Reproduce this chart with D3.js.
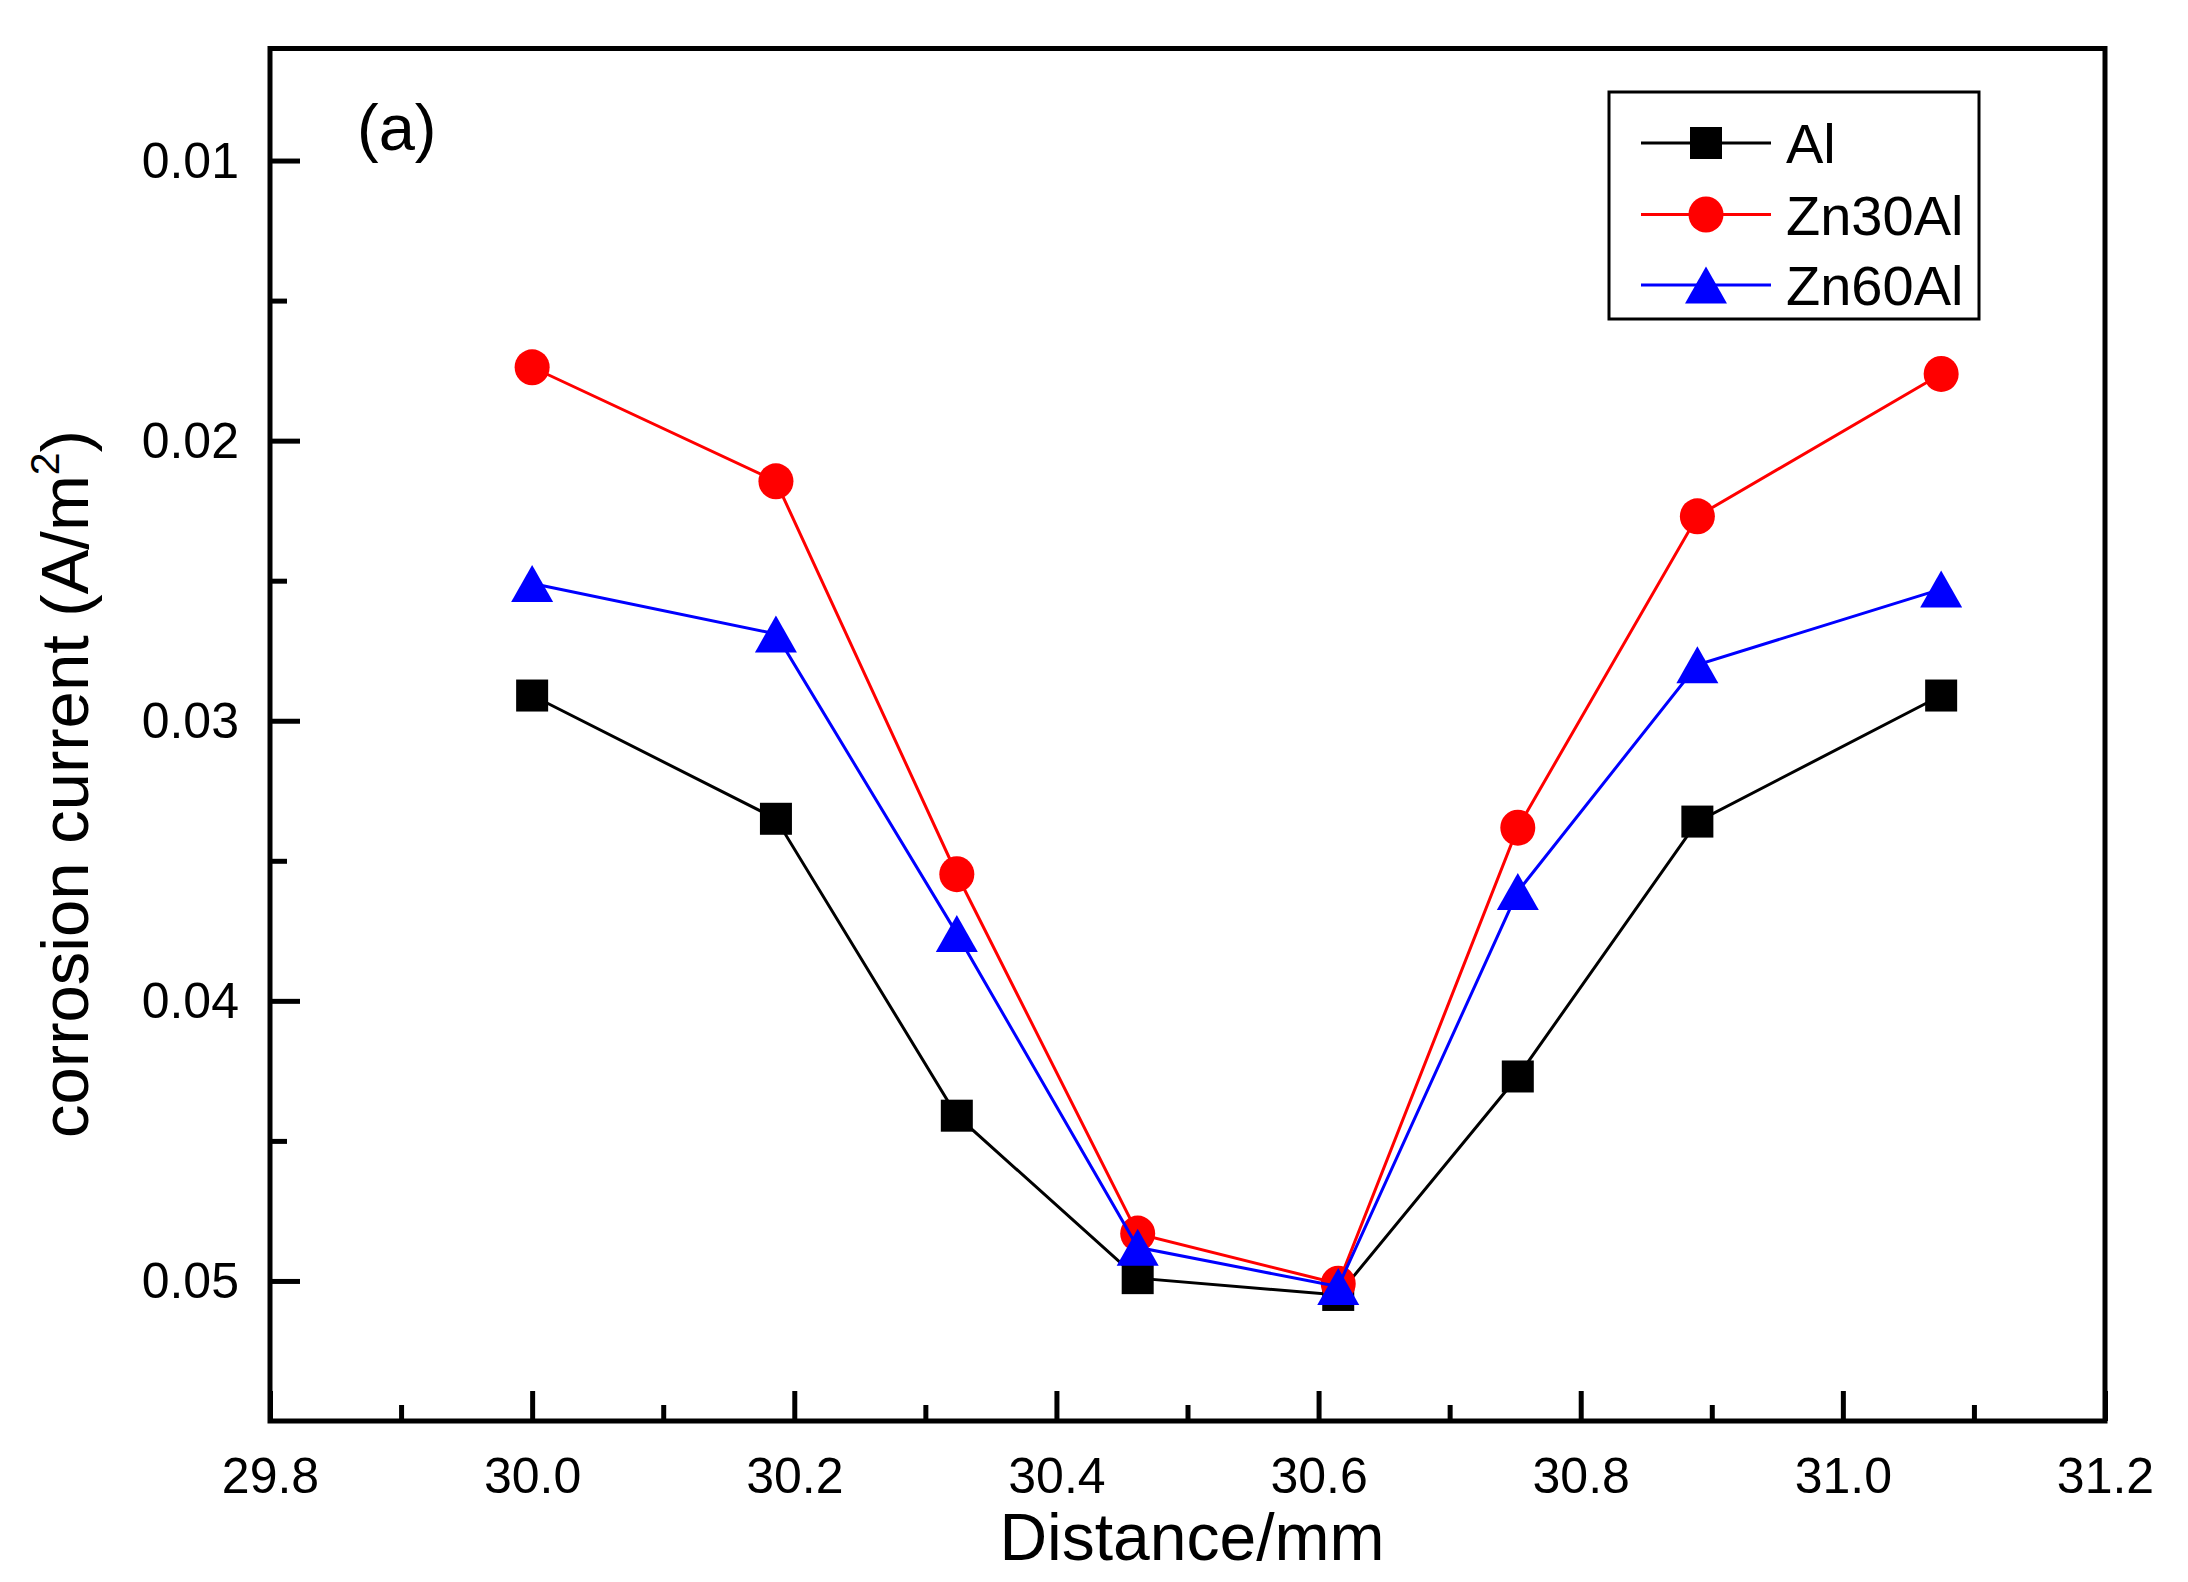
<!DOCTYPE html>
<html>
<head>
<meta charset="utf-8">
<script src="https://cdn.jsdelivr.net/npm/d3@7"></script>
<style>
  html, body { margin: 0; padding: 0; background: #fff; }
  svg { display: block; }
  text { font-family: "Liberation Sans", Arial, sans-serif; fill: #000; }
</style>
</head>
<body>
<script>
// ---- data ----
const distance = [30.0, 30.186, 30.324, 30.462, 30.615, 30.752, 30.889, 31.075];
const al     = [0.0291, 0.0335, 0.0441, 0.0499, 0.0505, 0.0427, 0.0336, 0.0291];
const zn30al = [0.01738, 0.02145, 0.03548, 0.04831, 0.0501, 0.03382, 0.0227, 0.01762];
const zn60al = [0.0251, 0.0269, 0.0376, 0.0488, 0.0502, 0.0361, 0.0280, 0.0253];
const seriesNames = ["Al", "Zn30Al", "Zn60Al"];
const xTicks = [29.8, 30.0, 30.2, 30.4, 30.6, 30.8, 31.0, 31.2];
const xMinorTicks = [29.9, 30.1, 30.3, 30.5, 30.7, 30.9, 31.1];
const yTicks = [0.01, 0.02, 0.03, 0.04, 0.05];
const yMinorTicks = [0.015, 0.025, 0.035, 0.045];
const xDomain = [29.8, 31.2];
const yDomain = [0.006, 0.055];

// ---- layout ----
const W = 2188, H = 1582;
const L = 270, R = 2105, T = 48.5, B = 1421;

const svg = d3.select("body").append("svg").attr("width", W).attr("height", H);
svg.append("rect").attr("width", W).attr("height", H).attr("fill", "#fff");

const x = d3.scaleLinear().domain(xDomain).range([L, R]);
const y = d3.scaleLinear().domain(yDomain).range([T, B]);

// ---- axes ----
const xAxis = d3.axisBottom(x).tickValues(xTicks).tickSize(-30).tickSizeOuter(0).tickPadding(0)
  .tickFormat(d3.format(".1f"));
const gx = svg.append("g").attr("transform", `translate(0,${B})`).call(xAxis);
gx.select(".domain").remove();
gx.selectAll(".tick line").attr("stroke", "#000").attr("stroke-width", 5);
gx.selectAll(".tick text").attr("font-size", 50).attr("y", 72).attr("dy", 0)
  .attr("font-family", '"Liberation Sans", Arial, sans-serif').attr("fill", "#000");

const xAxisMinor = d3.axisBottom(x).tickValues(xMinorTicks).tickSize(-16).tickSizeOuter(0).tickFormat("");
const gxm = svg.append("g").attr("transform", `translate(0,${B})`).call(xAxisMinor);
gxm.select(".domain").remove();
gxm.selectAll(".tick line").attr("stroke", "#000").attr("stroke-width", 5);

const yAxis = d3.axisLeft(y).tickValues(yTicks).tickSize(-30).tickSizeOuter(0).tickPadding(0)
  .tickFormat(d3.format(".2f"));
const gy = svg.append("g").attr("transform", `translate(${L},0)`).call(yAxis);
gy.select(".domain").remove();
gy.selectAll(".tick line").attr("stroke", "#000").attr("stroke-width", 5);
gy.selectAll(".tick text").attr("font-size", 50).attr("x", -31).attr("dy", "0.33em")
  .attr("font-family", '"Liberation Sans", Arial, sans-serif').attr("fill", "#000");

const yAxisMinor = d3.axisLeft(y).tickValues(yMinorTicks).tickSize(-17).tickSizeOuter(0).tickFormat("");
const gym = svg.append("g").attr("transform", `translate(${L},0)`).call(yAxisMinor);
gym.select(".domain").remove();
gym.selectAll(".tick line").attr("stroke", "#000").attr("stroke-width", 5);

// frame
svg.append("rect").attr("x", L).attr("y", T).attr("width", R - L).attr("height", B - T)
  .attr("fill", "none").attr("stroke", "#000").attr("stroke-width", 5);

// ---- titles ----
svg.append("text").attr("x", 1192).attr("y", 1560).attr("text-anchor", "middle")
  .attr("font-size", 66).text("Distance/mm");

const yt = svg.append("text").attr("transform", "translate(88,784) rotate(-90)")
  .attr("text-anchor", "middle").attr("font-size", 67);
yt.append("tspan").text("corrosion current (A/m");
yt.append("tspan").attr("font-size", 41).attr("dy", -29).text("2");
yt.append("tspan").attr("dy", 29).text(")");

svg.append("text").attr("x", 357).attr("y", 150).attr("font-size", 65).text("(a)");

// ---- series ----
const colors = ["#000000", "#ff0000", "#0000ff"];
const values = [al, zn30al, zn60al];
const shapes = ["square", "circle", "triangle"];

function drawMarker(g, shape, color) {
  if (shape === "square") {
    g.append("rect").attr("x", -16).attr("y", -16).attr("width", 32).attr("height", 32).attr("fill", color);
  } else if (shape === "circle") {
    g.append("ellipse").attr("rx", 17.5).attr("ry", 18).attr("fill", color);
  } else {
    g.append("path").attr("d", "M0,-18.5L21,18.5L-21,18.5Z").attr("fill", color);
  }
}

const line = d3.line().x(d => x(d[0])).y(d => y(d[1]));

values.forEach((vals, i) => {
  const pts = distance.map((d, j) => [d, vals[j]]);
  const g = svg.append("g");
  g.append("path").attr("d", line(pts)).attr("fill", "none").attr("stroke", colors[i]).attr("stroke-width", 3);
  pts.forEach(p => {
    const mg = g.append("g").attr("transform", `translate(${x(p[0])},${y(p[1])})`);
    drawMarker(mg, shapes[i], colors[i]);
  });
});

// ---- legend ----
const lg = svg.append("g");
lg.append("rect").attr("x", 1609).attr("y", 92).attr("width", 370).attr("height", 227)
  .attr("fill", "#fff").attr("stroke", "#000").attr("stroke-width", 3);
const rowY = [143, 214.5, 285];
seriesNames.forEach((name, i) => {
  lg.append("line").attr("x1", 1641).attr("x2", 1771).attr("y1", rowY[i]).attr("y2", rowY[i])
    .attr("stroke", colors[i]).attr("stroke-width", 3);
  const mg = lg.append("g").attr("transform", `translate(1706,${rowY[i]})`);
  drawMarker(mg, shapes[i], colors[i]);
  lg.append("text").attr("x", 1786).attr("y", rowY[i] + 20).attr("font-size", 56).text(name);
});
</script>
</body>
</html>
